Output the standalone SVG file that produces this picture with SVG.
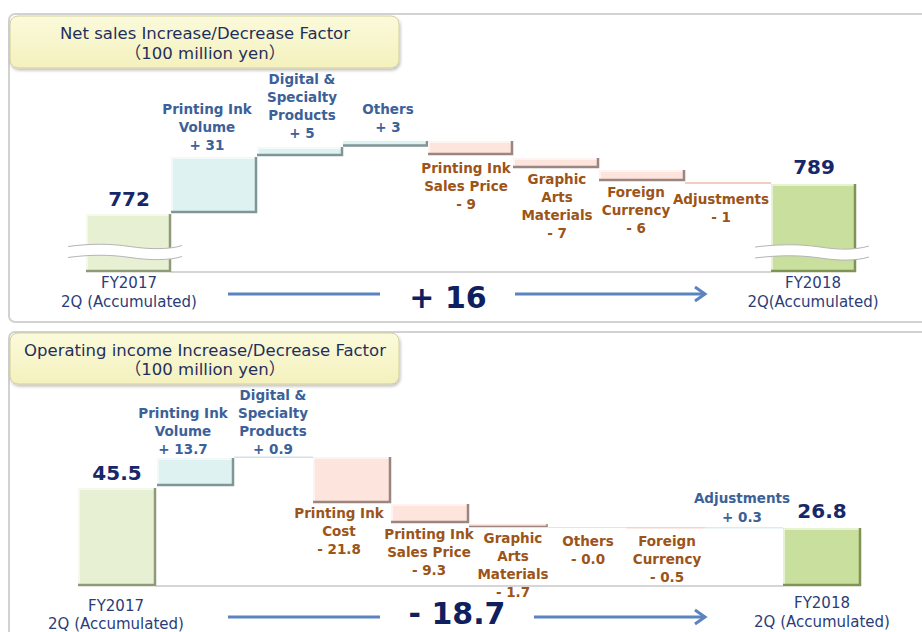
<svg xmlns="http://www.w3.org/2000/svg" width="922" height="632" viewBox="0 0 922 632">
<defs>
<style>
.t{font-family:"DejaVu Sans","Noto Sans CJK JP",sans-serif;text-anchor:middle}
.title{font-size:16.5px;fill:#1f2f5c}
.lb{font-size:13.5px;font-weight:bold;fill:#3c6198}
.lr{font-size:13.5px;font-weight:bold;fill:#9c5418}
.num{font-size:20px;font-weight:bold;fill:#17286a}
.fy{font-size:15px;fill:#2a3d78}
.big{font-size:30px;font-weight:bold;fill:#0f2060}
.panel{fill:#fff;stroke:#d2d2d2;stroke-width:2}
.tbox{fill:url(#yg);stroke:#d3cf9c;stroke-width:1}
.start{fill:#e8f0d4}
.end{fill:#c9df9e}
.up{fill:#dff2f2}
.down{fill:#fde4dc}
.eStart{fill:none;stroke:#8f9a78;stroke-width:2.5}
.eEnd{fill:none;stroke:#7f9356;stroke-width:2.5}
.eUp{fill:none;stroke:#7f9596;stroke-width:2.5}
.eDown{fill:none;stroke:#9a8580;stroke-width:2.5}
.hl{fill:none;stroke:#fff;stroke-width:1.5;opacity:.75}
.base{stroke:#c9c9c9;stroke-width:1.5}
.arr{stroke:#5b83bf;stroke-width:3;fill:none}
.brk{fill:none;stroke:#fff;stroke-width:11}
.brkl{fill:none;stroke:#b4b4b4;stroke-width:1}
</style>
<linearGradient id="yg" x1="0" y1="0" x2="0" y2="1">
<stop offset="0" stop-color="#fbfadb"/>
<stop offset="1" stop-color="#f4f1bd"/>
</linearGradient>
<filter id="sh" x="-5%" y="-10%" width="110%" height="130%">
<feDropShadow dx="1" dy="2" stdDeviation="1.5" flood-color="#000" flood-opacity="0.25"/>
</filter>
<marker id="ah" markerUnits="userSpaceOnUse" markerWidth="16" markerHeight="18" viewBox="0 0 16 18" refX="13" refY="9" orient="auto">
<path d="M3,2 L13,9 L3,16" fill="none" stroke="#5b83bf" stroke-width="3"/>
</marker>
</defs>
<rect width="922" height="632" fill="#fff"/>

<!-- panels -->
<g id="panel-top">
<rect class="panel" x="9" y="14" width="940" height="308" rx="6"/>
<rect class="tbox" x="10" y="16" width="389" height="52" rx="8" filter="url(#sh)"/>
<text class="t title" x="205" y="39">Net sales Increase/Decrease Factor</text>
<text class="t title" x="205" y="59">（100 million yen）</text>
<line class="base" x1="171" y1="272" x2="771" y2="272"/>
</g>
<g id="panel-bottom">
<rect class="panel" x="9" y="332" width="940" height="320" rx="6"/>
<rect class="tbox" x="10" y="333" width="389" height="51" rx="8" filter="url(#sh)"/>
<text class="t title" x="205" y="356">Operating income Increase/Decrease Factor</text>
<text class="t title" x="205" y="375">（100 million yen）</text>
<line class="base" x1="156" y1="586" x2="783" y2="586"/>
</g>

<!-- TOP CHART -->
<g id="ns-fy2017">
<rect class="start" x="86" y="214" width="85" height="58"/>
<path class="hl" d="M87,271 V215 H170"/>
<path class="eStart" d="M170,214 V271 H86"/>
<path class="brk" d="M68,252 C90,249 110,249 130,252 S170,255 182,251"/>
<path class="brkl" d="M68,246.5 C90,243.5 110,243.5 130,246.5 S170,249.5 182,245.5"/>
<path class="brkl" d="M68,257.5 C90,254.5 110,254.5 130,257.5 S170,260.5 182,256.5"/>
<text class="t num" x="129" y="206">772</text>
<text class="t fy" x="129" y="288">FY2017</text>
<text class="t fy" x="129" y="307">2Q (Accumulated)</text>
</g>
<g id="ns-ink-volume">
<rect class="up" x="171" y="157" width="86" height="56"/>
<path class="hl" d="M172,212 V158 H256"/>
<path class="eUp" d="M256,157 V212 H171"/>
<text class="t lb" x="207" y="114">Printing Ink</text>
<text class="t lb" x="207" y="132">Volume</text>
<text class="t lb" x="207" y="150">+ 31</text>
</g>
<g id="ns-digital">
<rect class="up" x="257" y="147" width="86" height="9"/>
<path class="hl" d="M258,155 V148 H342"/>
<path class="eUp" d="M342,147 V155 H257"/>
<text class="t lb" x="302" y="84">Digital &amp;</text>
<text class="t lb" x="302" y="102">Specialty</text>
<text class="t lb" x="302" y="120">Products</text>
<text class="t lb" x="302" y="138">+ 5</text>
</g>
<g id="ns-others">
<rect class="up" x="343" y="141" width="85" height="5"/>
<path class="eUp" d="M427,141 V145.5 H343"/>
<text class="t lb" x="388" y="114">Others</text>
<text class="t lb" x="388" y="132">+ 3</text>
</g>
<g id="ns-sales-price">
<rect class="down" x="428" y="141" width="85" height="14"/>
<path class="hl" d="M429,154 V142 H512"/>
<path class="eDown" d="M512,141 V154 H428"/>
<text class="t lr" x="466" y="173">Printing Ink</text>
<text class="t lr" x="466" y="191">Sales Price</text>
<text class="t lr" x="466" y="209">- 9</text>
</g>
<g id="ns-graphic">
<rect class="down" x="513" y="158" width="86" height="10"/>
<path class="hl" d="M514,167 V159 H598"/>
<path class="eDown" d="M598,158 V167 H513"/>
<text class="t lr" x="557" y="184">Graphic</text>
<text class="t lr" x="557" y="202">Arts</text>
<text class="t lr" x="557" y="220">Materials</text>
<text class="t lr" x="557" y="238">- 7</text>
</g>
<g id="ns-foreign">
<rect class="down" x="599" y="170" width="86" height="11"/>
<path class="hl" d="M600,180 V171 H684"/>
<path class="eDown" d="M684,170 V180 H599"/>
<text class="t lr" x="636" y="197">Foreign</text>
<text class="t lr" x="636" y="215">Currency</text>
<text class="t lr" x="636" y="233">- 6</text>
</g>
<g id="ns-adjust">
<rect x="685" y="182" width="86" height="2" fill="#f2cdc3"/>
<text class="t lr" x="721" y="204">Adjustments</text>
<text class="t lr" x="721" y="222">- 1</text>
</g>
<g id="ns-fy2018">
<rect class="end" x="771" y="184" width="85" height="88"/>
<path class="hl" d="M772,271 V185 H855"/>
<path class="eEnd" d="M855,184 V271 H771"/>
<path class="brk" d="M755,252.5 C780,249.5 800,249.5 820,252.5 S855,255.5 869,251.5"/>
<path class="brkl" d="M755,247 C780,244 800,244 820,247 S855,250 869,246"/>
<path class="brkl" d="M755,258 C780,255 800,255 820,258 S855,261 869,257"/>
<text class="t num" x="814" y="174">789</text>
<text class="t fy" x="813" y="288">FY2018</text>
<text class="t fy" x="813" y="307">2Q(Accumulated)</text>
</g>
<g id="ns-total">
<text class="t big" x="448" y="308">+ 16</text>
</g>

<!-- BOTTOM CHART -->
<g id="oi-fy2017">
<rect class="start" x="78" y="488" width="78" height="98"/>
<path class="hl" d="M79,585 V489 H155"/>
<path class="eStart" d="M155,488 V585 H78"/>
<text class="t num" x="117" y="480">45.5</text>
<text class="t fy" x="116" y="611">FY2017</text>
<text class="t fy" x="116" y="629">2Q (Accumulated)</text>
</g>
<g id="oi-ink-volume">
<rect class="up" x="157" y="458" width="77" height="28"/>
<path class="hl" d="M158,485 V459 H233"/>
<path class="eUp" d="M233,458 V485 H157"/>
<text class="t lb" x="183" y="418">Printing Ink</text>
<text class="t lb" x="183" y="436">Volume</text>
<text class="t lb" x="183" y="454">+ 13.7</text>
</g>
<g id="oi-digital">
<rect x="234" y="456.5" width="79" height="1.5" fill="#cfe4ea"/>
<text class="t lb" x="273" y="400">Digital &amp;</text>
<text class="t lb" x="273" y="418">Specialty</text>
<text class="t lb" x="273" y="436">Products</text>
<text class="t lb" x="273" y="454">+ 0.9</text>
</g>
<g id="oi-ink-cost">
<rect class="down" x="313" y="457" width="78" height="46"/>
<path class="hl" d="M314,502 V458 H390"/>
<path class="eDown" d="M390,457 V502 H313"/>
<text class="t lr" x="339" y="518">Printing Ink</text>
<text class="t lr" x="339" y="536">Cost</text>
<text class="t lr" x="339" y="554">- 21.8</text>
</g>
<g id="oi-sales-price">
<rect class="down" x="391" y="504" width="78" height="19"/>
<path class="hl" d="M392,522 V505 H468"/>
<path class="eDown" d="M468,504 V522 H391"/>
<text class="t lr" x="429" y="539">Printing Ink</text>
<text class="t lr" x="429" y="557">Sales Price</text>
<text class="t lr" x="429" y="575">- 9.3</text>
</g>
<g id="oi-graphic">
<rect class="down" x="469" y="524" width="79" height="3"/>
<path class="eDown" d="M547,524 V526.5 H469" style="stroke-width:1.5"/>
<text class="t lr" x="513" y="543">Graphic</text>
<text class="t lr" x="513" y="561">Arts</text>
<text class="t lr" x="513" y="579">Materials</text>
<text class="t lr" x="513" y="597">- 1.7</text>
</g>
<g id="oi-others">
<rect x="548" y="527" width="78" height="1" fill="#e4e4e4"/>
<text class="t lr" x="588" y="546">Others</text>
<text class="t lr" x="588" y="564">- 0.0</text>
</g>
<g id="oi-foreign">
<rect x="626" y="527" width="79" height="1.5" fill="#f5d3c9"/>
<text class="t lr" x="667" y="546">Foreign</text>
<text class="t lr" x="667" y="564">Currency</text>
<text class="t lr" x="667" y="582">- 0.5</text>
</g>
<g id="oi-adjust">
<rect x="705" y="527" width="78" height="1.5" fill="#d9ecf1"/>
<text class="t lb" x="742" y="503">Adjustments</text>
<text class="t lb" x="742" y="522">+ 0.3</text>
</g>
<g id="oi-fy2018">
<rect class="end" x="783" y="528" width="78" height="58"/>
<path class="hl" d="M784,585 V529 H860"/>
<path class="eEnd" d="M860,528 V585 H783"/>
<text class="t num" x="822" y="518">26.8</text>
<text class="t fy" x="822" y="608">FY2018</text>
<text class="t fy" x="822" y="627">2Q (Accumulated)</text>
</g>
<g id="oi-total">
<text class="t big" x="457" y="624">- 18.7</text>
</g>

<!-- connectors -->
<g id="connectors">
<line class="arr" x1="228" y1="294" x2="380" y2="294"/>
<line class="arr" x1="515" y1="294" x2="705" y2="294" marker-end="url(#ah)"/>
<line class="arr" x1="228" y1="617" x2="380" y2="617"/>
<line class="arr" x1="534" y1="617" x2="705" y2="617" marker-end="url(#ah)"/>
</g>
</svg>
